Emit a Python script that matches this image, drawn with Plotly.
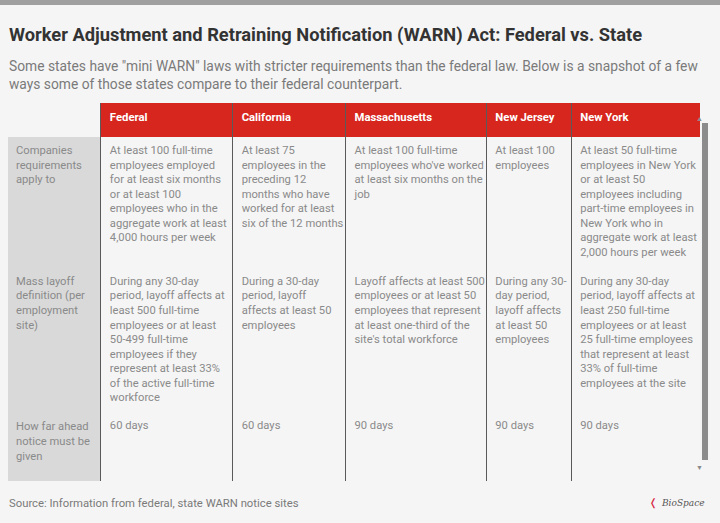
import plotly.graph_objects as go

W, H = 720, 523

TITLE = "Worker Adjustment and Retraining Notification (WARN) Act: Federal vs. State"
SUBTITLE = ('Some states have "mini WARN" laws with stricter requirements than the federal law. '
            "Below is a snapshot of a few<br>ways some of those states compare to their federal counterpart.")
SOURCE = "Source: Information from federal, state WARN notice sites"

jurisdictions = ["Federal", "California", "Massachusetts", "New Jersey", "New York"]

row_labels = [
    "Companies<br>requirements<br>apply to",
    "Mass layoff<br>definition (per<br>employment<br>site)",
    "How far ahead<br>notice must be<br>given",
]

federal = [
    "At least 100 full-time<br>employees employed<br>for at least six months<br>or at least 100<br>"
    "employees who in the<br>aggregate work at least<br>4,000 hours per week",
    "During any 30-day<br>period, layoff affects at<br>least 500 full-time<br>employees or at least<br>"
    "50-499 full-time<br>employees if they<br>represent at least 33%<br>of the active full-time<br>workforce",
    "60 days",
]
california = [
    "At least 75<br>employees in the<br>preceding 12<br>months who have<br>worked for at least<br>six of the 12 months",
    "During a 30-day<br>period, layoff<br>affects at least 50<br>employees",
    "60 days",
]
massachusetts = [
    "At least 100 full-time<br>employees who've worked<br>at least six months on the<br>job",
    "Layoff affects at least 500<br>employees or at least 50<br>employees that represent<br>"
    "at least one-third of the<br>site's total workforce",
    "90 days",
]
new_jersey = [
    "At least 100<br>employees",
    "During any 30-<br>day period,<br>layoff affects<br>at least 50<br>employees",
    "90 days",
]
new_york = [
    "At least 50 full-time<br>employees in New York<br>or at least 50<br>employees including<br>"
    "part-time employees in<br>New York who in<br>aggregate work at least<br>2,000 hours per week",
    "During any 30-day<br>period, layoff affects at<br>least 250 full-time<br>employees or at least<br>"
    "25 full-time employees<br>that represent at least<br>33% of full-time<br>employees at the site",
    "90 days",
]

# relative column widths (label column first)
col_widths = [93, 131, 112, 140, 84, 127]

BG = "#f5f5f5"
RED = "#d7261e"
LABEL_BG = "#d9d9d9"
RULE = "#5a5a5a"
TEXT = "#8a8a8a"


def py(y):
    # pixel row -> paper coordinate
    return 1 - y / H


def px_(x):
    return x / W


# build table columns with thin dark separator columns between them
columns = [row_labels, federal, california, massachusetts, new_jersey, new_york]
headers = [""] + [f"<b>{j}</b>" for j in jurisdictions]
values, header_vals, widths = [], [], []
head_fill, cell_fill = [], []
for i, (col, head, w) in enumerate(zip(columns, headers, col_widths)):
    if i > 0:
        values.append([""] * len(row_labels))
        header_vals.append("")
        widths.append(1)
        head_fill.append(RULE)
        cell_fill.append(RULE)
    values.append(col)
    header_vals.append(head)
    widths.append(w)
    head_fill.append(BG if i == 0 else RED)
    cell_fill.append(LABEL_BG if i == 0 else BG)

fig = go.Figure(
    go.Table(
        domain=dict(x=[px_(8), px_(699)], y=[py(498), py(103)]),
        columnwidth=widths,
        header=dict(
            values=header_vals,
            fill_color=head_fill,
            line=dict(color=head_fill, width=1),
            font=dict(family="Roboto", size=11.3, color="white"),
            align="left",
            height=33,
        ),
        cells=dict(
            values=values,
            fill_color=cell_fill,
            line=dict(color=cell_fill, width=1),
            font=dict(family="Roboto", size=11.2, color=TEXT),
            align="left",
            height=68,
        ),
    )
)

annotations = [
    dict(text=f"<b>{TITLE}</b>", x=px_(7), y=py(35), xanchor="left", yanchor="middle",
         font=dict(family="Roboto", size=18.3, color="#333333")),
    dict(text=SUBTITLE, x=px_(7), y=py(56), xanchor="left", yanchor="top", align="left",
         font=dict(family="Roboto", size=13.8, color="#7a7a7a")),
    dict(text=SOURCE, x=px_(7), y=py(503), xanchor="left", yanchor="middle",
         font=dict(family="Roboto", size=11.3, color="#7a7a7a")),
    dict(text="<i>BioSpace</i>", x=px_(707), y=py(503), xanchor="right", yanchor="middle",
         font=dict(family="DejaVu Serif", size=9, color="#555555")),
    dict(text="❬", x=px_(653), y=py(503), xanchor="center", yanchor="middle",
         font=dict(family="DejaVu Sans", size=10, color="#d7263e")),
    dict(text="▲", x=px_(705), y=py(112), font=dict(size=7, color="#8a8a8a")),
    dict(text="▼", x=px_(705), y=py(474), font=dict(size=7, color="#8a8a8a")),
]
for a in annotations:
    a.update(xref="paper", yref="paper", showarrow=False)

shapes = [
    # grey band along the top edge
    dict(type="rect", x0=0, x1=1, y0=py(5), y1=1, fillcolor="#a0a0a0", line_width=0),
    # scrollbar thumb
    dict(type="rect", x0=px_(702), x1=px_(708), y0=py(460), y1=py(123),
         fillcolor="#8c8c8c", line_width=0),
]
for s in shapes:
    s.update(xref="paper", yref="paper")

fig.update_layout(
    width=W,
    height=H,
    margin=dict(l=0, r=0, t=0, b=0),
    paper_bgcolor=BG,
    plot_bgcolor=BG,
    annotations=annotations,
    shapes=shapes,
)

fig.write_html(
    "out.html",
    config={"displayModeBar": False},
    post_script="document.body.style.margin='0';",
)
